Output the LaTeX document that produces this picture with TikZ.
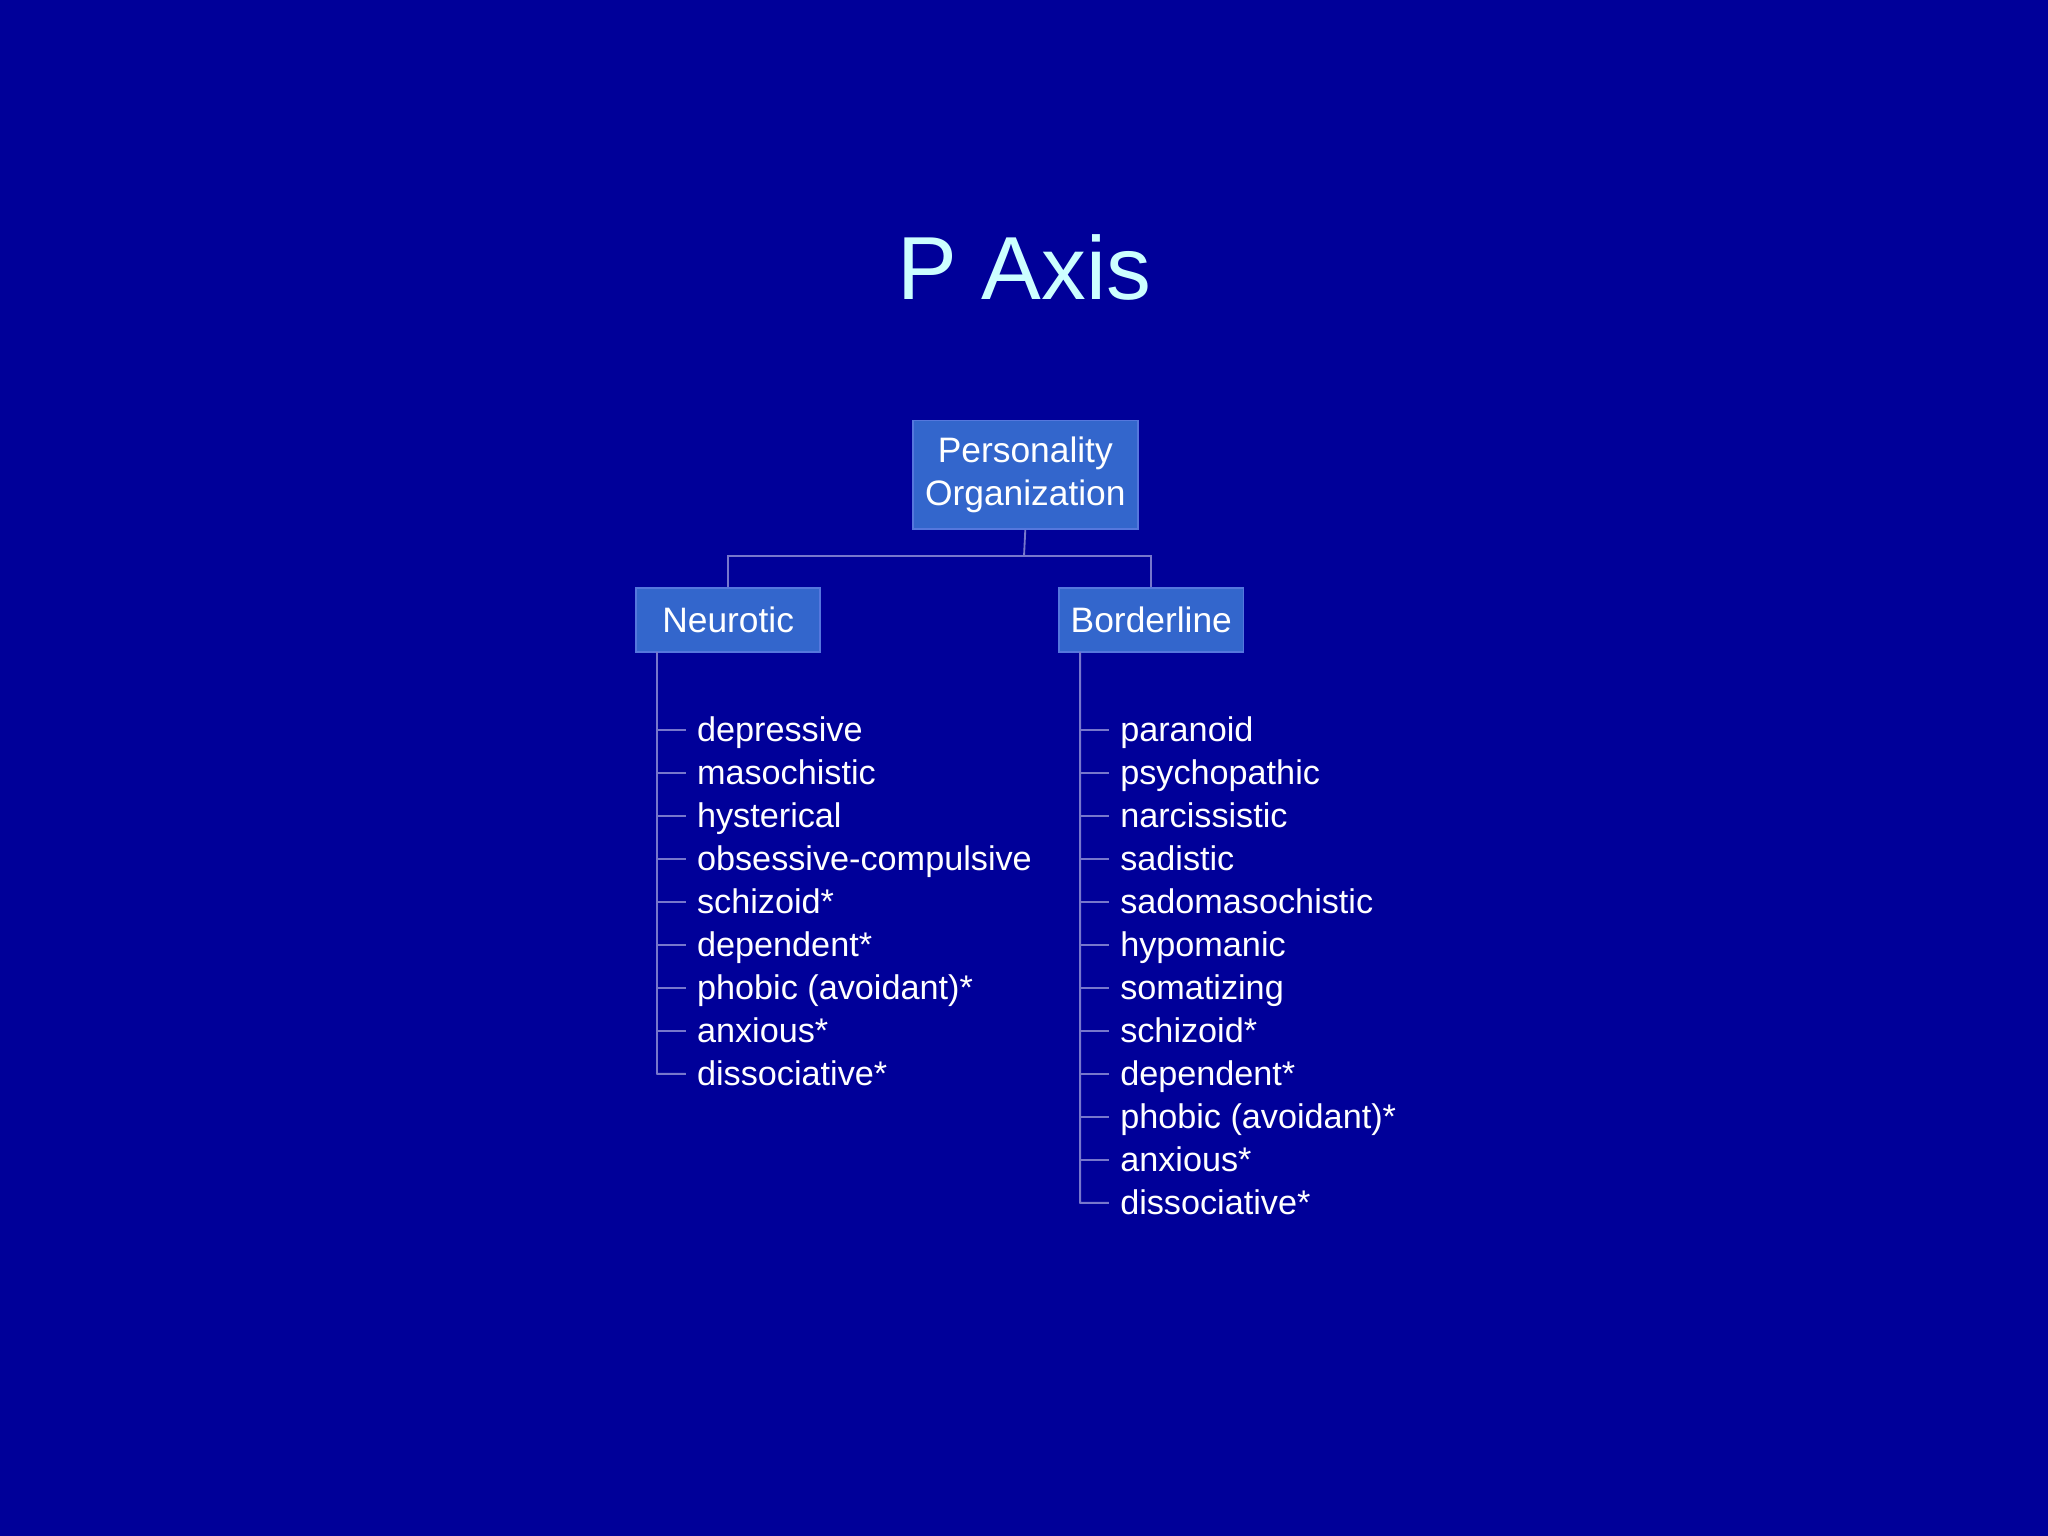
\documentclass[tikz,border=0pt]{standalone}
\usepackage{fontspec}
\setmainfont{Liberation Sans}
\definecolor{bg}{HTML}{000099}
\definecolor{boxf}{HTML}{3366CC}
\definecolor{boxd}{HTML}{5577DD}
\definecolor{ttl}{HTML}{CCFFFF}
\definecolor{ln}{HTML}{7777CC}
\begin{document}
\begin{tikzpicture}[x=0.01cm,y=-0.01cm,
  box/.style={draw=boxd,fill=boxf,text=white,font=\fontsize{7.7pt}{9.3pt}\selectfont,align=center,inner sep=0pt},
  item/.style={anchor=base west,text=white,font=\fontsize{7.45pt}{8.8pt}\selectfont,inner sep=0pt},
  conn/.style={draw=ln,line width=0.4pt}]
\fill[bg] (0,0) rectangle (1568,1176);
\useasboundingbox (0,0) rectangle (1568,1176);
\node[text=ttl,font=\fontsize{19.5pt}{23pt}\selectfont,anchor=base] (title) at (784,229) {P Axis};
\node[box,minimum width=1.72cm,minimum height=0.83cm] (po) at (785,363.5) {Personality\\Organization};
\node[box,minimum width=1.41cm,minimum height=0.49cm] (neu) at (557.5,474.5) {Neurotic};
\node[box,minimum width=1.41cm,minimum height=0.49cm] (bor) at (881.5,474.5) {Borderline};
\coordinate (jm) at (784,426);
\draw[conn] (po.south) -- (jm);
\draw[conn] (neu.north) |- (jm) -| (bor.north);
\foreach \t [count=\i from 0] in {depressive,masochistic,hysterical,obsessive-compulsive,schizoid*,dependent*,phobic (avoidant)*,anxious*,dissociative*}{
  \coordinate (lt\i) at (525,559+32.9*\i);
  \node[item] (l\i) at (533,568+32.9*\i) {\t};
  \draw[conn] (503,559+32.9*\i) -- (lt\i);
}
\draw[conn] (503,499) -- (503,822.1) -- (lt8);
\foreach \t [count=\i from 0] in {paranoid,psychopathic,narcissistic,sadistic,sadomasochistic,hypomanic,somatizing,schizoid*,dependent*,phobic (avoidant)*,anxious*,dissociative*}{
  \coordinate (rt\i) at (849,559+32.9*\i);
  \node[item] (r\i) at (857,568+32.9*\i) {\t};
  \draw[conn] (827,559+32.9*\i) -- (rt\i);
}
\draw[conn] (827,499) -- (827,920.9) -- (rt11);
\end{tikzpicture}
\end{document}
